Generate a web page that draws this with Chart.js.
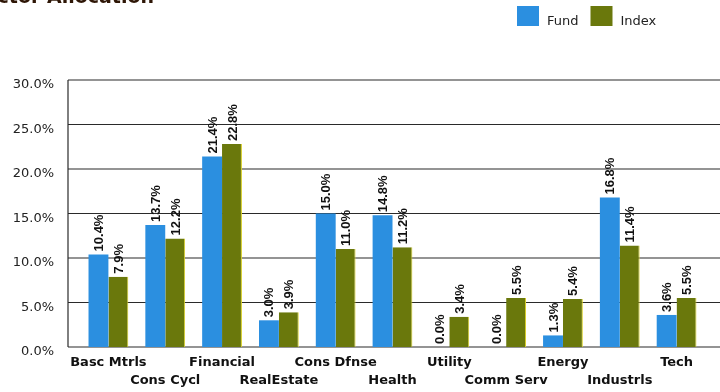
<!DOCTYPE html>
<html>
<head>
<meta charset="utf-8">
<script src="https://cdn.jsdelivr.net/npm/chart.js@4.4.1/dist/chart.umd.min.js"></script>
<style>
  html, body { margin: 0; padding: 0; background: #fff; }
</style>
</head>
<body>
<canvas id="sectorChart" width="720" height="392"></canvas>
<script>
const sectors = ['Basc Mtrls', 'Cons Cycl', 'Financial', 'RealEstate', 'Cons Dfnse', 'Health', 'Utility', 'Comm Serv', 'Energy', 'Industrls', 'Tech'];
const fundWeights = [10.4, 13.7, 21.4, 3.0, 15.0, 14.8, 0.0, 0.0, 1.3, 16.8, 3.6];
const indexWeights = [7.9, 12.2, 22.8, 3.9, 11.0, 11.2, 3.4, 5.5, 5.4, 11.4, 5.5];
const seriesNames = ['Fund', 'Index'];
const seriesColors = ['#2b8fe0', '#6a780c'];
const yMax = 30;
const yStep = 5;
const chartTitle = 'Sector Allocation';

const AXIS_X = 68;

// horizontal rules run past the plot on both sides, like the old report layout
const frameLines = {
  id: 'frameLines',
  beforeDatasetsDraw(chart) {
    const { ctx, scales: { y } } = chart;
    ctx.save();
    ctx.strokeStyle = '#2a2a2a';
    ctx.lineWidth = 1.2;
    y.ticks.forEach(t => {
      const py = y.getPixelForValue(t.value);
      ctx.beginPath();
      ctx.moveTo(AXIS_X, py);
      ctx.lineTo(chart.width, py);
      ctx.stroke();
    });
    ctx.beginPath();
    ctx.moveTo(AXIS_X, y.getPixelForValue(yMax));
    ctx.lineTo(AXIS_X, y.getPixelForValue(0));
    ctx.stroke();
    ctx.restore();
  }
};

// rotated percentage above each bar
const barValues = {
  id: 'barValues',
  afterDatasetsDraw(chart) {
    const { ctx } = chart;
    ctx.save();
    ctx.font = 'bold 13px "Liberation Sans", Arial, sans-serif';
    ctx.fillStyle = '#111';
    ctx.textAlign = 'left';
    ctx.textBaseline = 'middle';
    chart.data.datasets.forEach((ds, i) => {
      chart.getDatasetMeta(i).data.forEach((bar, j) => {
        ctx.save();
        ctx.translate(bar.x + 1, bar.y - 3);
        ctx.rotate(-Math.PI / 2);
        ctx.fillText(ds.data[j].toFixed(1) + '%', 0, 0);
        ctx.restore();
      });
    });
    ctx.restore();
  }
};

// title (runs off the top-left edge) and the legend swatches
const header = {
  id: 'header',
  afterDraw(chart) {
    const { ctx } = chart;
    ctx.save();
    ctx.font = 'bold 19px "DejaVu Sans", sans-serif';
    ctx.fillStyle = '#2e1606';
    ctx.textBaseline = 'alphabetic';
    ctx.fillText(chartTitle, -29, 3);

    ctx.font = '13px "DejaVu Sans", sans-serif';
    let x = 517;
    chart.data.datasets.forEach(ds => {
      ctx.fillStyle = ds.backgroundColor;
      ctx.fillRect(x, 6, 22, 20);
      ctx.fillStyle = '#222';
      ctx.fillText(ds.label, x + 30, 25);
      x += 30 + ctx.measureText(ds.label).width + 12;
    });
    ctx.restore();
  }
};

Chart.defaults.font.family = '"DejaVu Sans", Verdana, sans-serif';

new Chart(document.getElementById('sectorChart'), {
  type: 'bar',
  data: {
    labels: sectors,
    datasets: [
      {
        label: seriesNames[0],
        data: fundWeights,
        backgroundColor: seriesColors[0],
        borderWidth: 0
      },
      {
        label: seriesNames[1],
        data: indexWeights,
        backgroundColor: seriesColors[1],
        borderColor: '#d8cf2c',
        borderWidth: { top: 0, left: 0, bottom: 0, right: 1 }
      }
    ]
  },
  options: {
    responsive: false,
    animation: false,
    layout: { padding: { top: 80, right: 15, bottom: 0, left: 0 } },
    datasets: {
      bar: { categoryPercentage: 0.7, barPercentage: 1.0 }
    },
    scales: {
      x: {
        grid: { display: false, drawTicks: false },
        border: { display: false },
        ticks: {
          autoSkip: false,
          maxRotation: 0,
          padding: 7,
          color: '#111',
          font: { size: 13, weight: 'bold', lineHeight: 18 / 13 },
          callback: (value, index) => index % 2 ? ['', sectors[index]] : sectors[index]
        },
        afterFit: scale => { scale.height = 45; }
      },
      y: {
        min: 0,
        max: yMax,
        grid: { display: false, drawTicks: false },
        border: { display: false },
        ticks: {
          stepSize: yStep,
          padding: 26,
          labelOffset: 5,
          color: '#222',
          font: { size: 13 },
          callback: v => v.toFixed(1) + '%'
        },
        afterFit: scale => { scale.width = 80; }
      }
    },
    plugins: {
      legend: { display: false },
      tooltip: { enabled: false }
    }
  },
  plugins: [frameLines, barValues, header]
});
</script>
</body>
</html>
